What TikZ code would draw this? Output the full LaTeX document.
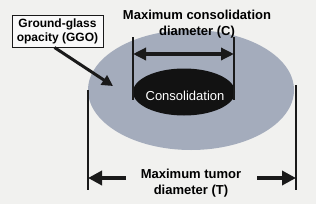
\documentclass[tikz,border=0pt]{standalone}
\usepackage{fontspec}
\setmainfont{Liberation Sans}
\usetikzlibrary{shapes.geometric,arrows.meta}
\definecolor{bgcol}{HTML}{F1F1EF}
\definecolor{ggocol}{HTML}{A4ACBC}
\definecolor{darkcol}{HTML}{121212}
\definecolor{linecol}{HTML}{1A1A1A}
\tikzset{
  lbl/.style={font=\fontsize{13}{16}\selectfont\bfseries, align=center, inner sep=0pt, text=black},
  thinline/.style={draw=linecol, line width=1.4pt},
  bigarrow/.style={draw=linecol, line width=4.5pt, -{Triangle[length=14pt,width=14pt]}},
  dblarrow/.style={draw=linecol, line width=3.5pt, {Triangle[length=13pt,width=12pt]}-{Triangle[length=13pt,width=12pt]}},
  ptrarrow/.style={draw=linecol, line width=3pt, -{Triangle[length=11pt,width=11pt]}},
}
\begin{document}
\begin{tikzpicture}[x=1pt,y=-1pt]
\fill[bgcol] (0,0) rectangle (316,204);
\useasboundingbox (0,0) rectangle (316,204);
% ellipses
\node[ellipse, fill=ggocol, minimum width=206pt, minimum height=120pt, inner sep=0pt] (tumor) at (191,90) {};
\node[ellipse, fill=darkcol, minimum width=102pt, minimum height=47pt, inner sep=0pt] (cons) at (184,92) {};
\node[font=\fontsize{13}{15}\selectfont, text=white, inner sep=0pt] (constext) at (185,96) {Consolidation};
% labels
\node[lbl] (ctitle) at (197,24) {Maximum consolidation\\diameter (C)};
\node[lbl] (ttitle) at (191,183) {Maximum tumor\\diameter (T)};
\node[draw=linecol, line width=1pt, fill=white!60!bgcol, font=\fontsize{12}{14}\selectfont\bfseries, align=center, minimum width=91pt, minimum height=32pt, inner sep=0pt] (ggo) at (57.5,31) {Ground-glass\\opacity (GGO)};
% coordinates
\coordinate (cl1) at (133,37);
\coordinate (cl2) at (133,100);
\coordinate (cr1) at (234,37);
\coordinate (cr2) at (234,100);
\coordinate (ca) at (133,54);
\coordinate (cb) at (234,54);
\coordinate (tl1) at (88,90);
\coordinate (tl2) at (88,190);
\coordinate (tr1) at (296,85);
\coordinate (tr2) at (296,190);
\coordinate (la) at (126,178);
\coordinate (lb) at (88,178);
\coordinate (ra) at (257,178);
\coordinate (rb) at (296,178);
\coordinate (gtip) at (113,86);
% lines
\draw[thinline] (cl1) -- (cl2);
\draw[thinline] (cr1) -- (cr2);
\draw[thinline] (tl1) -- (tl2);
\draw[thinline] (tr1) -- (tr2);
% arrows
\draw[dblarrow] (ca) -- (cb);
\draw[bigarrow] (la) -- (lb);
\draw[bigarrow] (ra) -- (rb);
\draw[ptrarrow] (ggo.south) ++(-3,0) coordinate (gstart) (gstart) -- (gtip);
\end{tikzpicture}
\end{document}
